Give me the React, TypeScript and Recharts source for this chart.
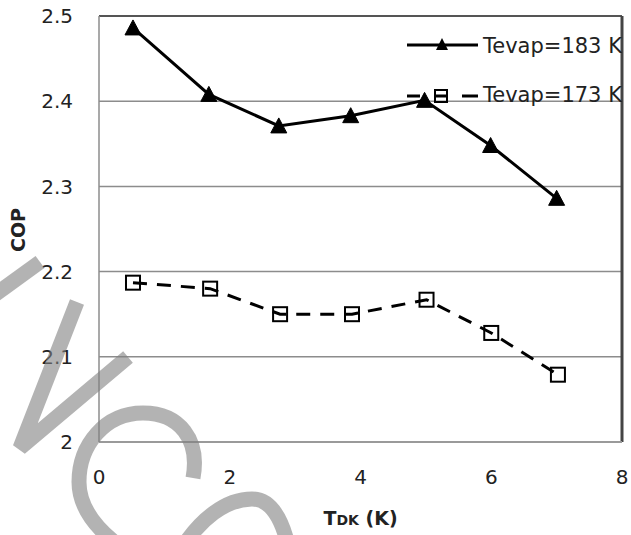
import React from 'react';
import { LineChart, Line, XAxis, YAxis, CartesianGrid, ReferenceLine, Legend } from 'recharts';

const tdk183 = [0.52, 1.68, 2.75, 3.85, 4.98, 5.99, 7.0];
const cop183 = [2.486, 2.408, 2.371, 2.383, 2.401, 2.348, 2.286];
const tdk173 = [0.52, 1.7, 2.77, 3.87, 5.01, 6.0, 7.02];
const cop173 = [2.187, 2.18, 2.15, 2.15, 2.167, 2.128, 2.079];
const xTicks = [0, 2, 4, 6, 8];
const yTicks = [2, 2.1, 2.2, 2.3, 2.4, 2.5];
const seriesNames = ['Tevap=183 K', 'Tevap=173 K'];

const data183 = tdk183.map((x, i) => ({ x, y: cop183[i] }));
const data173 = tdk173.map((x, i) => ({ x, y: cop173[i] }));

const FONT = 'DejaVu Sans';
const TXT = '#222';

const TriDot = (p: any) => {
  const { cx, cy, index } = p;
  if (cx == null || cy == null) return <g key={`t-${index}`} />;
  return (
    <polygon
      key={`t-${index}`}
      points={`${cx},${cy - 8} ${cx + 8},${cy + 7} ${cx - 8},${cy + 7}`}
      fill="#000"
      stroke="#000"
      strokeWidth={1}
    />
  );
};

const SqDot = (p: any) => {
  const { cx, cy, index } = p;
  if (cx == null || cy == null) return <g key={`s-${index}`} />;
  return (
    <rect key={`s-${index}`} x={cx - 7} y={cy - 7} width={14} height={14} fill="none" stroke="#000" strokeWidth={2} />
  );
};

const renderLegend = () => (
  <svg width={215} height={85} style={{ display: 'block' }}>
    <line x1={0} y1={15} x2={71} y2={15} stroke="#000" strokeWidth={3} />
    <polygon points="35,8 41,20 29,20" fill="#000" />
    <text x={76} y={23} fontFamily={FONT} fontSize={21} fill={TXT}>
      {seriesNames[0]}
    </text>
    <line x1={0} y1={66} x2={71} y2={66} stroke="#000" strokeWidth={3} strokeDasharray="13 15 12 15 16" />
    <rect x={28} y={60} width={12} height={12} fill="none" stroke="#000" strokeWidth={2} />
    <text x={76} y={72} fontFamily={FONT} fontSize={21} fill={TXT}>
      {seriesNames[1]}
    </text>
  </svg>
);

const XLabel = (props: any) => {
  const vb = props.viewBox || {};
  const cx = vb.x + vb.width / 2;
  const y = vb.y + 83;
  return (
    <text x={cx} y={y} textAnchor="middle" fontFamily={FONT} fontWeight="bold" fontSize={19} fill={TXT}>
      <tspan>T</tspan>
      <tspan fontSize={14}>DK</tspan>
      <tspan> (K)</tspan>
    </text>
  );
};

const YLabel = () => (
  <text x={25} y={230} transform="rotate(-90, 25, 230)" textAnchor="middle" fontFamily={FONT} fontWeight="bold" fontSize={19} fill={TXT}>
    COP
  </text>
);

export default function App() {
  return (
    <div style={{ position: 'absolute', left: 0, top: 0, width: 631, height: 535, background: '#fff' }}>
      <LineChart width={631} height={535} margin={{ top: 16, right: 9, left: 0, bottom: 0 }}>
        <CartesianGrid vertical={false} stroke="#8c8c8c" strokeWidth={1.5} />
        <XAxis
          type="number"
          dataKey="x"
          domain={[0, 8]}
          ticks={xTicks}
          height={93}
          axisLine={{ stroke: '#9a9a9a', strokeWidth: 2 }}
          tickLine={false}
          tickSize={0}
          tickMargin={28}
          tick={{ fontFamily: FONT, fontSize: 20, fill: TXT }}
          label={<XLabel />}
          allowDataOverflow
        />
        <YAxis
          type="number"
          domain={[2, 2.5]}
          ticks={yTicks}
          width={99}
          axisLine={{ stroke: '#8c8c8c', strokeWidth: 1.5 }}
          tickLine={false}
          tickSize={0}
          tickMargin={26}
          tickFormatter={(v: number) => (v === 2 ? '2' : v.toFixed(1))}
          tick={{ fontFamily: FONT, fontSize: 20, fill: TXT }}
          label={<YLabel />}
          allowDataOverflow
        />
        <ReferenceLine y={2.5} stroke="#555" strokeWidth={2} />
        <ReferenceLine x={8} stroke="#444" strokeWidth={3} />
        <Legend
          layout="vertical"
          align="center"
          verticalAlign="middle"
          content={renderLegend}
          wrapperStyle={{ left: 407, top: 30, width: 215, height: 85, overflow: 'hidden' }}
        />
        <Line
          name={seriesNames[0]}
          data={data183}
          dataKey="y"
          stroke="#000"
          strokeWidth={3}
          dot={TriDot}
          activeDot={false}
          isAnimationActive={false}
        />
        <Line
          name={seriesNames[1]}
          data={data173}
          dataKey="y"
          stroke="#000"
          strokeWidth={3}
          strokeDasharray="14 10"
          dot={SqDot}
          activeDot={false}
          isAnimationActive={false}
        />
      </LineChart>
      <svg
        width={631}
        height={535}
        style={{ position: 'absolute', left: 0, top: 0, pointerEvents: 'none' }}
      >
        <g stroke="#808080" strokeOpacity={0.6} strokeWidth={15} fill="none" strokeLinecap="butt" strokeLinejoin="miter">
          <line x1={-15} y1={302} x2={40} y2={262} />
          <polyline points="77,302 20,448 128,357" />
          <path d="M 193 478 C 200 440, 180 413, 143 413 C 105 413, 79 445, 79 482 C 79 505, 92 525, 118 545" />
          <path d="M 182 548 C 200 520, 225 499, 252 499 C 268 499, 280 512, 288 545" />
        </g>
      </svg>
    </div>
  );
}
